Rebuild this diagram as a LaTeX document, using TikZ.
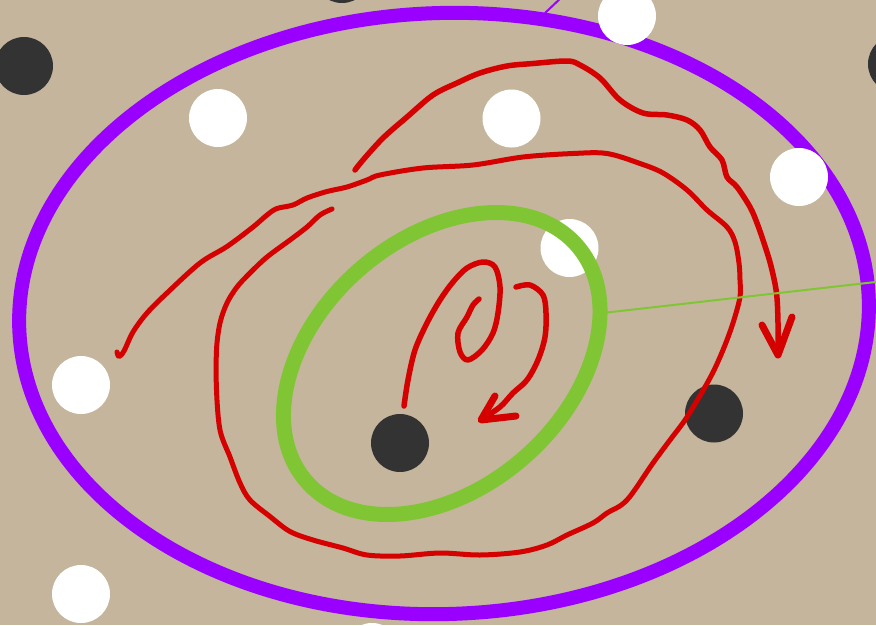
\documentclass[tikz,border=0pt]{standalone}
\usepackage{tikz}
\begin{document}
\begin{tikzpicture}[x=1pt,y=-1pt,line cap=round,line join=round]
\definecolor{bgtan}{RGB}{196,181,156}
\definecolor{ringpurple}{RGB}{153,0,255}
\definecolor{ringgreen}{RGB}{128,198,52}
\definecolor{pathred}{RGB}{213,0,0}
\definecolor{darkdot}{RGB}{51,51,51}
\tikzset{
  whitedot/.style={fill=white},
  blackdot/.style={fill=darkdot},
  redpath/.style={draw=pathred,line width=5pt},
  redhead/.style={draw=pathred,line width=7pt}
}
\fill[bgtan] (0,0) rectangle (876,625);
\useasboundingbox (0,0) rectangle (876,625);
\clip (0,0) rectangle (876,625);
% purple ring and its pointer
\draw[ringpurple,line width=14pt,rotate around={2:(444,313.5)}] (444,313.5) ellipse [x radius=425, y radius=300.5];
\coordinate (pa) at (545,13);
\coordinate (pb) at (563,-4);
\draw[ringpurple,line width=2pt] (pa) -- (pb);
% dots
\fill[blackdot] (24,66) circle [radius=29];
\fill[blackdot] (342,-26) circle [radius=29];
\fill[blackdot] (897,64) circle [radius=29];
\fill[blackdot] (400,443) circle [radius=29];
\fill[blackdot] (714,413.5) circle [radius=29];
\fill[whitedot] (627,16) circle [radius=29];
\fill[whitedot] (218,118) circle [radius=29];
\fill[whitedot] (511.5,118.5) circle [radius=29];
\fill[whitedot] (799,177) circle [radius=29];
\fill[whitedot] (569.5,248) circle [radius=29];
\fill[whitedot] (81,385) circle [radius=29];
\fill[whitedot] (81,594) circle [radius=29];
\fill[whitedot] (372,652) circle [radius=29];
% red paths
\draw[redpath] plot[smooth,tension=0.55] coordinates {(117,352) (119,356.5) (124,351) (133,332) (147,313) (167,293) (200,263) (227,246.5) (253,227) (267,215) (277,208.5) (293,205) (307,198) (327,191.5) (347,187) (367,180) (380,175) (423,168) (473,165) (523,157) (573,153.5) (607,153.5) (640,163.5) (663,173) (687,190) (707,210) (727,227) (735,242) (739,263) (740,280) (740,297) (733,323) (723,350) (710,378) (687,417) (670,440) (653,463) (627,500) (607,513) (593,523) (567,535) (547,545) (520,552) (480,555) (440,553) (400,556) (367,555) (343,548) (313,540) (290,531.5) (270,516.5) (250,500) (240,483) (230,457) (220,430) (216.5,390) (216.5,350) (220,323) (227,303) (237,287) (250,273) (267,257) (290,240) (307,227) (320,215) (332,209)};
\draw[redpath,line width=5.5pt] plot[smooth,tension=0.55] coordinates {(355,170) (363,160) (383,138) (407,117) (433,95) (457,83) (480,73) (507,66) (533,63.5) (567,61) (580,65) (600,78) (620,100) (643,113) (667,115) (687,120) (700,130) (710,147) (722,160) (727,177) (737,187) (750,207) (757,223) (764,243) (771,266) (776.5,293) (778,323) (778,355)};
\coordinate (btip) at (778,355);
\draw[redhead] (762,325) -- (btip) -- (792,317);
\draw[redpath,line width=5.5pt] plot[smooth,tension=0.55] coordinates {(404,406) (408,380) (415,350) (427,323) (440,300) (453,282) (467,268) (483,262) (495,267) (500,287) (498,313) (493,333) (482,350) (468,360) (460,352) (458,333) (467,317) (473,305) (479,299)};
\draw[redpath,line width=5.5pt] plot[smooth,tension=0.55] coordinates {(516,287) (530,285) (543,295) (546,313) (545,337) (538,360) (527,380) (513,393) (500,407) (482,419)};
\coordinate (dtip) at (481,420);
\draw[redhead] (495,396) -- (dtip) -- (516,416);
% green ring and its pointer
\draw[ringgreen,line width=15pt,rotate around={41.1:(441.75,363.5)}] (441.75,363.5) ellipse [x radius=179.5, y radius=125];
\coordinate (ga) at (607,312.5);
\coordinate (gb) at (880,281.5);
\draw[ringgreen,line width=2pt] (ga) -- (gb);
\end{tikzpicture}
\end{document}
